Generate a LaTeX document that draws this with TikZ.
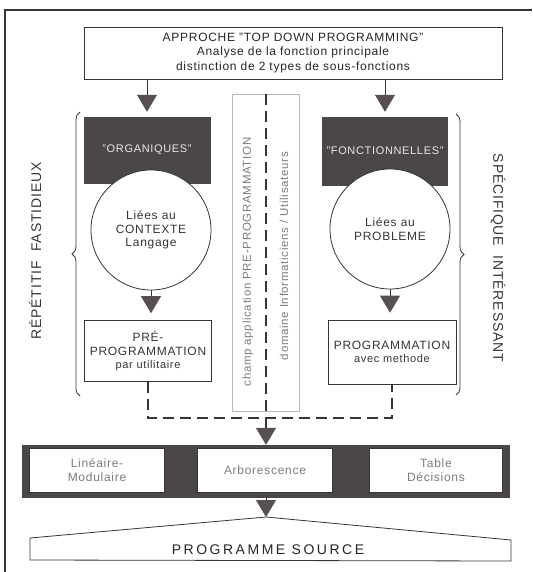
\documentclass[tikz,border=0pt]{standalone}
\usepackage{fontspec}
\setmainfont{Liberation Sans}[LetterSpace=6]
\usepackage{tikz}
\usetikzlibrary{arrows.meta}
\usetikzlibrary{positioning}
\usetikzlibrary{decorations.pathreplacing}
\definecolor{darkfill}{RGB}{76,71,71}
\definecolor{tricol}{RGB}{88,80,80}
\definecolor{inkgray}{RGB}{55,53,53}
\definecolor{lightink}{RGB}{125,123,123}
\tikzset{dbox/.style = {fill=darkfill, draw=darkfill, text=white!82!gray, font=\fontsize{11}{13}\selectfont}}
\tikzset{lbox/.style = {draw=inkgray, line width=0.6pt, fill=white, text=inkgray, align=center, inner sep=0, font=\fontsize{12}{13.5}\selectfont}}
\tikzset{bubble/.style = {circle, draw=inkgray, line width=0.8pt, fill=white, minimum size=120pt, inner sep=0, align=center, text=inkgray, font=\fontsize{12}{13.5}\selectfont}}
\tikzset{tri/.style = {-{Triangle[length=17pt, width=20pt, color=tricol]}, draw=inkgray, line width=0.8pt}}
\tikzset{dline/.style = {draw=inkgray, line width=1.4pt, dash pattern=on 11pt off 6pt}}
\tikzset{sidetxt/.style = {text=inkgray, font=\fontsize{14}{16}\selectfont}}
\tikzset{midtxt/.style = {rotate=90, text=lightink, font=\fontsize{11.5}{13}\selectfont}}
\tikzset{wbox/.style = {fill=white, draw=inkgray, line width=0.5pt, minimum height=44pt, text=lightink, align=center, font=\fontsize{12}{13.5}\selectfont}}
\tikzset{brc/.style = {draw=inkgray, line width=0.8pt, decorate, decoration={brace, amplitude=8pt}}}
\begin{document}
\begin{tikzpicture}[x=1pt, y=-1pt]
  \useasboundingbox (0,0) rectangle (532,572);
  \draw[line width=1.2pt, inkgray] (5,590) -- (5,10) -- (532,10);

  \node[lbox, minimum width=418pt, minimum height=52pt, text=black!85, font=\fontsize{12}{14.5}\selectfont] (top) at (293,53)
    {APPROCHE "TOP DOWN PROGRAMMING"\\Analyse de la fonction principale\\distinction de 2 types de sous-fonctions};

  \node[dbox, minimum width=126pt, minimum height=66pt] (org) at (147,150) {"ORGANIQUES"};
  \node[dbox, minimum width=125pt, minimum height=68pt] (fon) at (385,151) {"FONCTIONNELLES"};

  \node[bubble] (ctx) at (151,230) {Liées au\\CONTEXTE\\Langage};
  \node[bubble] (pbl) at (390,229) {Liées au\\PROBLEME};

  \node[lbox, minimum width=127pt, minimum height=61pt] (pre) at (148,351)
    {PRÉ-\\PROGRAMMATION\\{\fontsize{11}{13}\selectfont par utilitaire}};
  \node[lbox, minimum width=128pt, minimum height=64pt] (prg) at (392,352)
    {PROGRAMMATION\\{\fontsize{11}{13}\selectfont avec methode}};

  \node[draw=gray!55, line width=0.5pt, minimum width=67pt, minimum height=317pt] (mid) at (266,253) {};
  \node[midtxt] (chp) at (248,262) {champ application PRE-PROGRAMMATION};
  \node[midtxt] (dom) at (284,256) {domaine Informaticiens / Utilisateurs};

  \node[sidetxt, rotate=90] (rep) at (35,251) {RÉPÉTITIF~~FASTIDIEUX};
  \node[sidetxt, rotate=-90] (spe) at (498,258) {SPÉCIFIQUE~~INTÉRESSANT};
  \draw[brc] (80,396) -- (80,112);
  \draw[brc] (456,114) -- (456,395);

  \node[fill=darkfill, draw=darkfill, minimum width=487pt, minimum height=52pt] (band) at (266,471) {};
  \node[wbox, minimum width=135pt] (lin) at (97,470) {Linéaire-\\Modulaire};
  \node[wbox, minimum width=135pt] (arb) at (265,470) {\raisebox{-7pt}{Arborescence}};
  \node[wbox, minimum width=133pt] (tab) at (436,470) {Table\\Décisions};

  \coordinate (apex) at (266,517);
  \draw[line width=0.8pt, inkgray] (30,538) -- (apex) -- (511,540) -- (511,561) -- (30,560) -- cycle;
  \node[text=black!85, font=\fontsize{14}{16}\selectfont\addfontfeatures{LetterSpace=18}] (src) at (268,550) {PROGRAMME SOURCE};

  \coordinate (join) at (266,418);
  \draw[tri, shorten >=5pt] (top.south -| org.north) -- (org.north);
  \draw[tri, shorten >=5pt] (top.south -| fon.north) -- (fon.north);
  \draw[tri, shorten >=7pt] (ctx.south) -- (ctx.south |- pre.north);
  \draw[tri, shorten >=7pt] (pbl.south) -- (pbl.south |- prg.north);
  \draw[dline] (pre.south) |- (join) -| (prg.south);
  \draw[tri, dline] (mid.north) -- (band.north);
  \draw[tri] (band.south) -- (apex);
\end{tikzpicture}
\end{document}
